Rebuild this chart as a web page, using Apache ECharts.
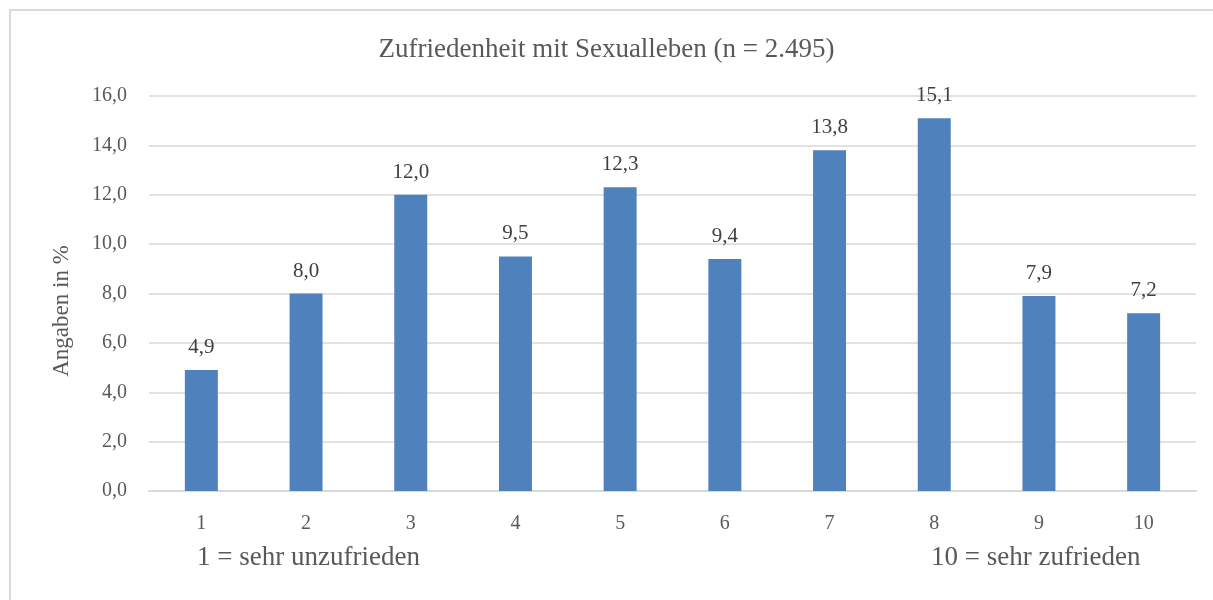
<!DOCTYPE html>
<html>
<head>
<meta charset="utf-8">
<title>Zufriedenheit mit Sexualleben</title>
<script src="https://cdn.jsdelivr.net/npm/echarts@6/dist/echarts.min.js"></script>
<style>
  html, body { margin: 0; padding: 0; background: #fff; }
  #chart { width: 1213px; height: 600px; }
</style>
</head>
<body>
<div id="chart"></div>
<script>
// Daten
const categories = ['1', '2', '3', '4', '5', '6', '7', '8', '9', '10']
const values = [4.9, 8.0, 12.0, 9.5, 12.3, 9.4, 13.8, 15.1, 7.9, 7.2]
const scaleNotes = ['1 = sehr unzufrieden', '10 = sehr zufrieden']

const fmt = v => v.toFixed(1).replace('.', ',')
const font = '"Liberation Serif", "DejaVu Serif", serif'
const textColor = '#595959'

const chart = echarts.init(document.getElementById('chart'))

chart.setOption({
  animation: false,
  textStyle: { fontFamily: font },
  title: {
    text: 'Zufriedenheit mit Sexualleben (n = 2.495)',
    left: 'center',
    top: 31,
    textStyle: { fontFamily: font, fontSize: 27, fontWeight: 'normal', color: textColor }
  },
  grid: { left: 149, right: 17, top: 96, bottom: 109 },
  xAxis: {
    type: 'category',
    data: categories,
    axisLine: { lineStyle: { color: '#d9d9d9', width: 2 } },
    axisTick: { show: false },
    axisLabel: { color: textColor, fontSize: 20, margin: 23, fontFamily: font }
  },
  yAxis: {
    type: 'value',
    min: 0,
    max: 16,
    interval: 2,
    axisLine: { show: false },
    axisTick: { show: false },
    axisLabel: { color: textColor, fontSize: 20, margin: 22, formatter: v => fmt(v), fontFamily: font },
    splitLine: { lineStyle: { color: '#d9d9d9', width: 1.5 } }
  },
  series: [{
    type: 'bar',
    data: values,
    barWidth: '31.5%',
    itemStyle: { color: '#4f81bd' },
    label: {
      show: true,
      position: 'top',
      distance: 12,
      color: '#404040',
      fontSize: 21,
      fontFamily: font,
      formatter: p => fmt(p.value)
    }
  }],
  graphic: [
    {
      type: 'rect',
      shape: { x: 10, y: 10, width: 1230, height: 620 },
      style: { fill: 'none', stroke: '#d9d9d9', lineWidth: 2 },
      silent: true
    },
    {
      type: 'text',
      x: 62,
      y: 311,
      rotation: Math.PI / 2,
      style: { text: 'Angaben in %', fontFamily: font, fontSize: 23, fill: textColor, align: 'center', verticalAlign: 'middle' }
    },
    {
      type: 'text',
      left: 197,
      top: 544,
      style: { text: scaleNotes[0], fontFamily: font, fontSize: 27, fill: textColor }
    },
    {
      type: 'text',
      left: 931,
      top: 544,
      style: { text: scaleNotes[1], fontFamily: font, fontSize: 27, fill: textColor }
    }
  ]
})
</script>
</body>
</html>
